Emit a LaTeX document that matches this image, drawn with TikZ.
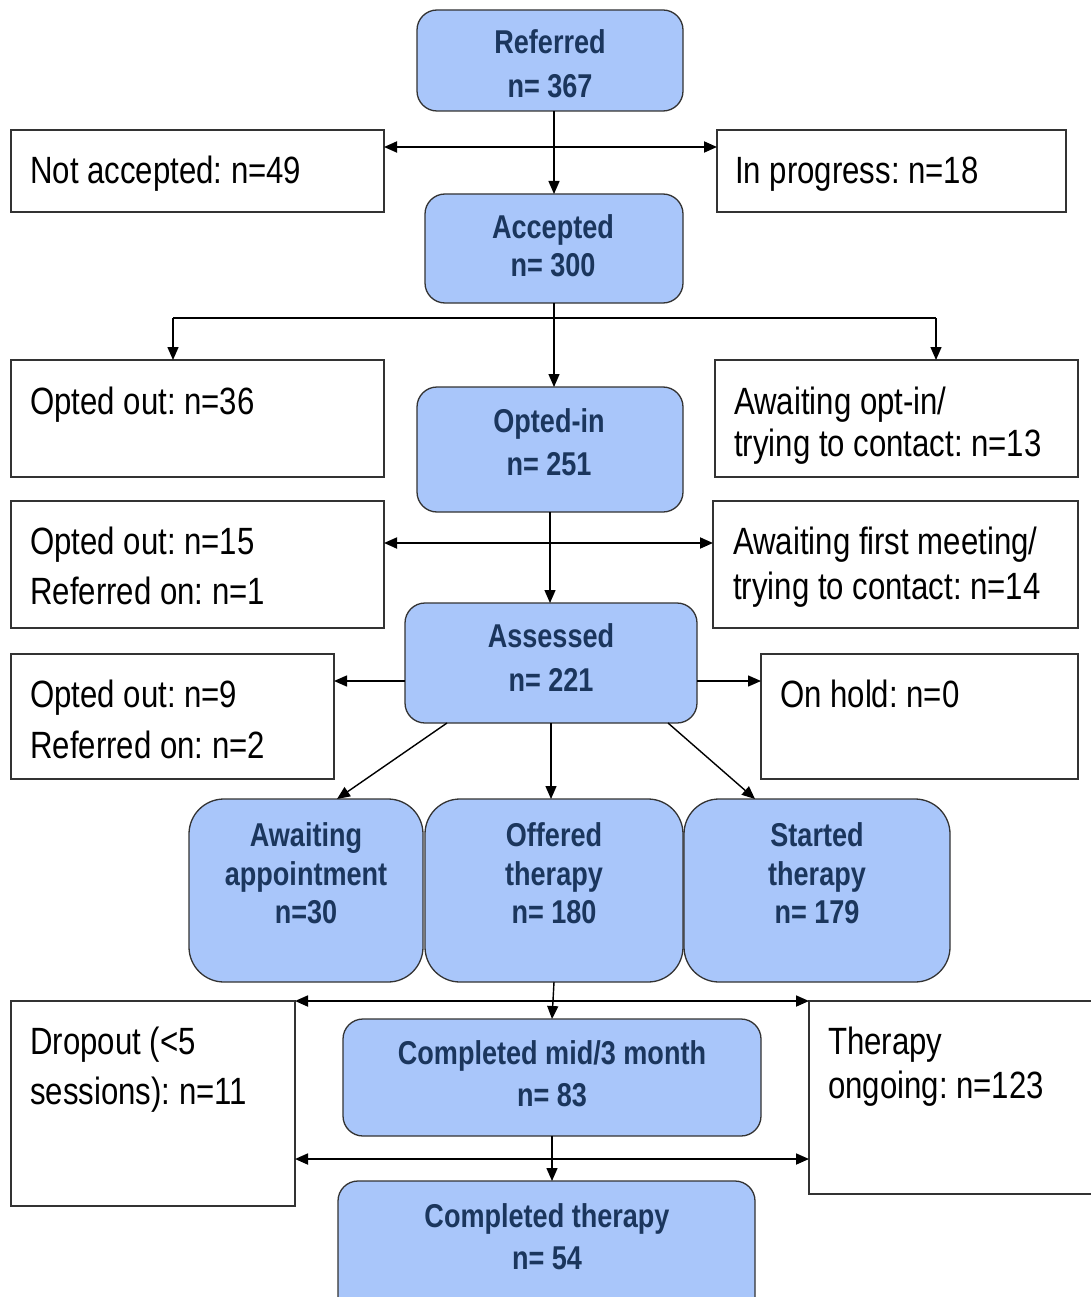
\documentclass[tikz,border=0pt]{standalone}
\usepackage{fontspec}
\setmainfont{Liberation Sans}[FakeStretch=0.82]
\usetikzlibrary{arrows.meta}
\definecolor{boxblue}{HTML}{A9C6FA}
\definecolor{navy}{HTML}{1B365D}
\definecolor{edgegray}{HTML}{333333}
\frenchspacing
\begin{document}
\begin{tikzpicture}[x=1pt,y=-1pt,
  bbox/.style={draw=edgegray, line width=1.3pt, fill=boxblue, rounded corners=20pt, inner sep=0pt, outer sep=0pt},
  wbox/.style={draw=edgegray, line width=1.2pt, fill=white, inner sep=0pt, outer sep=0pt},
  btxt/.style={font=\fontsize{33}{#1}\selectfont\bfseries, text=navy, align=center, inner sep=0pt},
  wtxt/.style={font=\fontsize{38}{46}\selectfont, anchor=base west, inner sep=0pt, text=black},
  arr/.style={-{Triangle[length=13pt,width=11pt]}, line width=1.4pt},
  darr/.style={{Triangle[length=13pt,width=11pt]}-{Triangle[length=13pt,width=11pt]}, line width=1.8pt},
  plain/.style={line width=1.4pt}]
\clip (0,0) rectangle (1091,1297);
\fill[white] (0,0) rectangle (1091,1297);

% blue boxes
\node[bbox, minimum width=266pt, minimum height=101pt] (ref) at (550,60.5) {};
\node[bbox, minimum width=258pt, minimum height=109pt] (acc) at (554,248.5) {};
\node[bbox, minimum width=266pt, minimum height=125pt] (opt) at (550,449.5) {};
\node[bbox, minimum width=292pt, minimum height=120pt] (ass) at (551,663) {};
\node[bbox, rounded corners=35pt, minimum width=234pt, minimum height=183pt] (awa) at (306,890.5) {};
\node[bbox, rounded corners=35pt, minimum width=258pt, minimum height=183pt] (off) at (554,890.5) {};
\node[bbox, rounded corners=35pt, minimum width=266pt, minimum height=183pt] (sta) at (817,890.5) {};
\node[bbox, minimum width=418pt, minimum height=117pt] (cmid) at (552,1077.5) {};
\node[bbox, minimum width=417pt, minimum height=139pt] (cther) at (546.5,1250.5) {};

% blue texts
\node[btxt=44] (tref) at (550,64) {Referred\\n= 367};
\node[btxt=38] (tacc) at (553,246) {Accepted\\n= 300};
\node[btxt=43] (topt) at (549,442.5) {Opted-in\\n= 251};
\node[btxt=44] (tass) at (551,658) {Assessed\\n= 221};
\node[btxt=38.5] (tawa) at (306,873.5) {Awaiting\\appointment\\n=30};
\node[btxt=38.5] (toff) at (554,873.5) {Offered\\therapy\\n= 180};
\node[btxt=38.5] (tsta) at (817,873.5) {Started\\therapy\\n= 179};
\node[btxt=42] (tcmid) at (552,1074) {Completed mid/3 month\\n= 83};
\node[btxt=42] (tcther) at (547,1237) {Completed therapy\\n= 54};

% white boxes
\node[wbox, minimum width=373pt, minimum height=82pt] (na) at (197.5,171) {};
\node[wbox, minimum width=349pt, minimum height=82pt] (inp) at (891.5,171) {};
\node[wbox, minimum width=373pt, minimum height=117pt] (oo36) at (197.5,418.5) {};
\node[wbox, minimum width=363pt, minimum height=117pt] (aoi) at (896.5,418.5) {};
\node[wbox, minimum width=373pt, minimum height=127pt] (oo15) at (197.5,564.5) {};
\node[wbox, minimum width=365pt, minimum height=127pt] (afm) at (895.5,564.5) {};
\node[wbox, minimum width=323pt, minimum height=125pt] (oo9) at (172.5,716.5) {};
\node[wbox, minimum width=317pt, minimum height=125pt] (oh) at (919.5,716.5) {};
\node[wbox, minimum width=284pt, minimum height=205pt] (drop) at (153,1103.5) {};
\node[wbox, minimum width=291pt, minimum height=193pt] (tong) at (954.5,1097.5) {};

% white texts
\node[wtxt] (tna) at (30,184) {Not accepted: n=49};
\node[wtxt] (tinp) at (735,184) {In progress: n=18};
\node[wtxt] (too36) at (30,414) {Opted out: n=36};
\node[wtxt] (taoi1) at (734,414) {Awaiting opt-in/};
\node[wtxt] (taoi2) at (734,456) {trying to contact: n=13};
\node[wtxt] (too15a) at (30,554) {Opted out: n=15};
\node[wtxt] (too15b) at (30,604) {Referred on: n=1};
\node[wtxt] (tafm1) at (733,554) {Awaiting first meeting/};
\node[wtxt] (tafm2) at (733,599) {trying to contact: n=14};
\node[wtxt] (too9a) at (30,707) {Opted out: n=9};
\node[wtxt] (too9b) at (30,758) {Referred on: n=2};
\node[wtxt] (toh) at (780,707) {On hold: n=0};
\node[wtxt] (tdrop1) at (30,1054) {Dropout (<5};
\node[wtxt] (tdrop2) at (30,1104) {sessions): n=11};
\node[wtxt] (ttong1) at (828,1054) {Therapy};
\node[wtxt] (ttong2) at (828,1098) {ongoing: n=123};

% helper coordinates
\coordinate (h1) at (553,147);
\coordinate (b1) at (173,318);
\coordinate (b2) at (936,318);
\coordinate (h3) at (548,543);
\coordinate (h4) at (551,681);
\coordinate (h5) at (552,1001);
\coordinate (h6) at (549,1159);

% connectors
\draw[arr] (ref.south -| acc.north) -- (acc.north);
\draw[darr] (na.east |- h1) -- (inp.west |- h1);
\draw[arr] (acc.south) -- (acc.south |- opt.north);
\draw[plain] (b1) -- (b2);
\draw[arr] (b1) -- (b1 |- oo36.north);
\draw[arr] (b2) -- (b2 |- aoi.north);
\draw[arr] (opt.south) -- (opt.south |- ass.north);
\draw[darr] (oo15.east |- h3) -- (afm.west |- h3);
\draw[arr] (ass.west |- h4) -- (oo9.east |- h4);
\draw[arr] (ass.east |- h4) -- (oh.west |- h4);
\draw[arr] ([xshift=42pt]ass.south west) -- ([xshift=31pt]awa.north);
\draw[arr] (ass.south) -- (ass.south |- off.north);
\draw[arr] ([xshift=-29pt]ass.south east) -- ([xshift=-62pt]sta.north);
\draw[arr] (off.south) -- (cmid.north);
\draw[darr] (drop.east |- h5) -- (tong.west |- h5);
\draw[arr] (cmid.south) -- (cmid.south |- cther.north);
\draw[darr] (drop.east |- h6) -- (tong.west |- h6);
\end{tikzpicture}
\end{document}
